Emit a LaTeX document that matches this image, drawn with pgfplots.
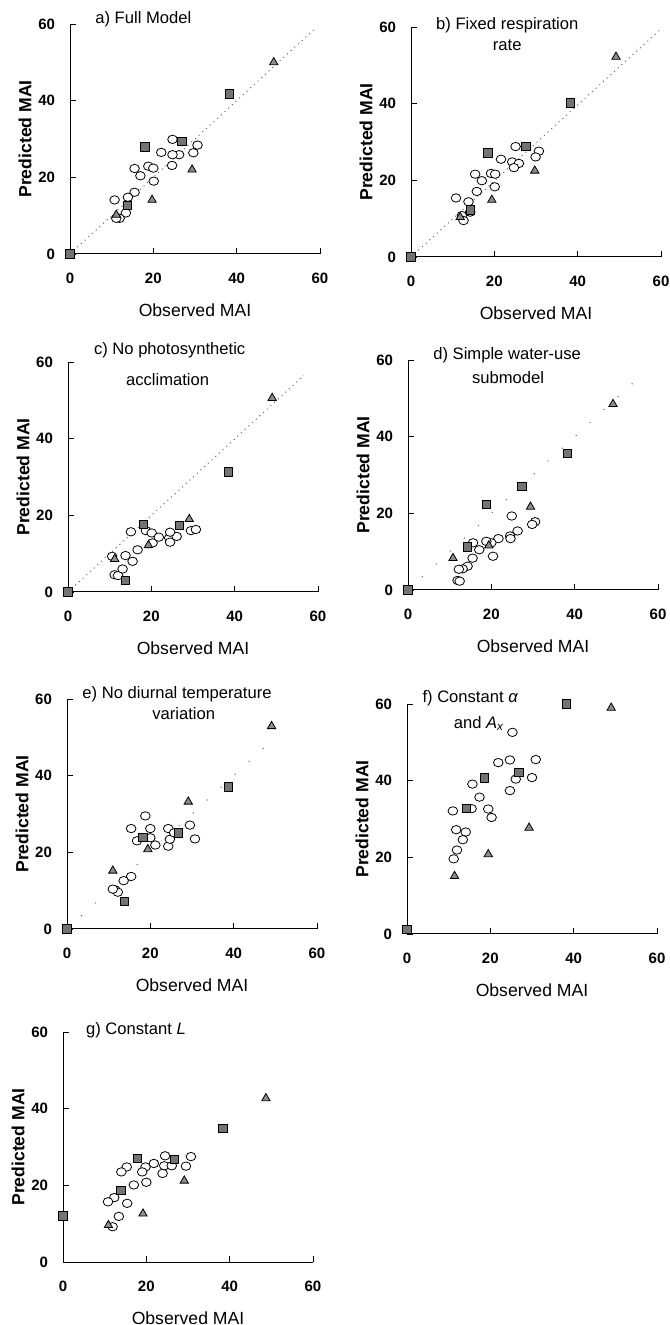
\documentclass[border=0pt]{standalone}
\usepackage{fontspec}
\setmainfont{Liberation Sans}
\usepackage{pgfplots}
\pgfplotsset{compat=1.18}

\pgfplotsset{
  panel/.style={
    scale only axis, width=125pt, height=115pt, anchor=south west,
    xmin=0, xmax=60, ymin=0, ymax=60,
    axis x line*=bottom, axis y line*=left,
    axis line style={-, black, line width=0.5pt},
    xtick={0,20,40,60}, ytick={0,20,40,60},
    tick align=inside, major tick length=3pt,
    tick style={black, line width=0.4pt},
    clip=false,
    /pgf/number format/assume math mode=true,
    ticklabel style={font=\bfseries\fontsize{7.5}{9}\selectfont},
    xticklabel style={yshift=-6pt},
    yticklabel style={xshift=-4pt},
    xlabel={Observed MAI}, ylabel={\bfseries Predicted MAI},
    label style={font=\fontsize{8.8}{10}\selectfont},
    x label style={at={(axis description cs:0.5,0)}, anchor=center, yshift=-28pt},
    y label style={at={(axis description cs:0,0.5)}, anchor=center, yshift=22.5pt},
  },
  circ/.style={only marks, mark=*, mark size=2.1pt,
    mark options={fill=white, draw=black, line width=0.4pt, xscale=1.15}},
  sq/.style={only marks, mark=square*, mark size=2.1pt,
    mark options={fill=black!55, draw=black, line width=0.4pt}},
  tri/.style={only marks, mark=triangle*, mark size=2.4pt,
    mark options={fill=black!45, draw=black, line width=0.4pt}},
  oneone/.style={black!60, dotted, line width=0.5pt},
  sparse/.style={black!60, line width=0.5pt, dash pattern=on 0.5pt off 9pt},
}
\newcommand{\ttl}[3]{\node[font=\fontsize{8.3}{10}\selectfont, inner sep=0] at (axis cs:#1,60) [yshift=#2] {#3};}

\begin{document}
\begin{tikzpicture}
\path[use as bounding box] (0,0) rectangle (334.5pt,662.5pt);

% a) Full Model
\begin{axis}[panel, at={(35pt,535.5pt)}]
\addplot[oneone] coordinates {(0,0) (59,59)};
\addplot[circ] coordinates {(24.6,29.9) (30.6,28.4) (21.9,26.5) (26.2,25.9) (24.6,25.9) (29.6,26.4) (24.5,23.1) (18.8,22.9) (20.0,22.4) (15.5,22.3) (16.9,20.4) (20.1,19.0) (15.5,16.1) (13.9,14.8) (10.7,14.1) (13.4,10.7) (11.9,9.3) (11.1,9.3)};
\addplot[sq] coordinates {(0,0) (13.8,12.6) (18.0,27.9) (26.9,29.4) (38.2,41.8)};
\addplot[tri] coordinates {(11.1,10.2) (19.7,14.1) (29.3,22.0) (48.9,50.0)};
\ttl{17.6}{2.5pt}{a) Full Model}
\end{axis}

% b) Fixed respiration rate
\begin{axis}[panel, at={(205.5pt,534pt)}]
\addplot[oneone] coordinates {(0,0) (60,59.5)};
\addplot[circ] coordinates {(25.1,28.8) (30.7,27.6) (29.9,26.1) (21.6,25.5) (24.3,24.8) (25.9,24.4) (24.7,23.3) (19.2,21.8) (20.2,21.6) (15.4,21.6) (17.0,19.9) (20.1,18.3) (15.8,17.1) (10.8,15.4) (13.8,14.4) (12.2,10.8) (12.6,9.5) (14.2,11.7)};
\addplot[sq] coordinates {(0,0) (14.2,12.3) (18.5,27.2) (27.6,28.8) (38.3,40.2)};
\addplot[tri] coordinates {(11.8,10.4) (19.4,14.9) (29.7,22.5) (49.2,52.2)};
\ttl{23.1}{1pt}{b) Fixed respiration}
\ttl{23.1}{-9pt}{rate}
\end{axis}

% c) No photosynthetic acclimation
\begin{axis}[panel, at={(34pt,366.5pt)}]
\addplot[oneone] coordinates {(0,0) (56.6,56.5)};
\addplot[circ] coordinates {(10.6,9.3) (11.2,4.5) (12.0,4.3) (13.1,6.0) (13.8,9.5) (15.5,8.0) (15.1,15.7) (16.7,11.0) (18.7,16.0) (20.1,15.4) (20.3,12.8) (21.8,14.3) (24.3,14.1) (24.5,13.0) (26.1,14.5) (24.5,15.6) (29.5,16.0) (30.7,16.3)};
\addplot[sq] coordinates {(0,0) (13.8,3.0) (18.1,17.6) (26.7,17.4) (38.5,31.3)};
\addplot[tri] coordinates {(11.2,8.6) (19.3,12.2) (29.1,19.0) (49.0,50.6)};
\ttl{24.4}{6pt}{c) No photosynthetic}
\ttl{23.9}{-9pt}{acclimation}
\end{axis}

% d) Simple water-use submodel
\begin{axis}[panel, at={(204pt,367.5pt)}]
\addplot[sparse] coordinates {(0,0) (56,56)};
\addplot[circ] coordinates {(24.9,19.3) (30.5,17.8) (29.8,17.1) (26.3,15.4) (24.5,14.1) (24.6,13.4) (21.7,13.4) (20.0,12.3) (18.8,12.7) (20.4,8.8) (17.1,10.5) (15.6,12.3) (15.5,8.3) (14.3,6.2) (13.1,5.5) (12.2,5.4) (11.9,2.5) (12.4,2.3)};
\addplot[sq] coordinates {(0,0) (14.2,11.2) (18.8,22.4) (27.3,27.0) (38.3,35.6)};
\addplot[tri] coordinates {(10.8,8.3) (19.4,11.6) (29.4,21.7) (49.2,48.5)};
\ttl{23.8}{2.5pt}{d) Simple water-use}
\ttl{24}{-9pt}{submodel}
\end{axis}

% e) No diurnal temperature variation
\begin{axis}[panel, at={(33.5pt,198pt)}]
\addplot[sparse] coordinates {(0,0) (50,50)};
\addplot[circ] coordinates {(18.8,29.5) (15.4,26.2) (20.0,26.2) (24.3,26.2) (29.5,27.1) (30.7,23.5) (20.0,23.8) (16.8,23.0) (21.2,21.9) (24.3,21.6) (24.7,23.4) (25.7,25.1) (15.4,13.7) (13.6,12.6) (11.6,10.2) (12.2,9.6) (11.0,10.4)};
\addplot[sq] coordinates {(0,0) (13.8,7.2) (18.2,23.9) (26.7,25.1) (38.7,37.1)};
\addplot[tri] coordinates {(11.0,15.2) (19.4,20.8) (29.1,33.2) (49.1,52.9)};
\ttl{26.4}{2.5pt}{e) No diurnal temperature}
\ttl{28}{-7.5pt}{variation}
\end{axis}

% f) Constant alpha and Ax
\begin{axis}[panel, at={(203.5pt,195.5pt)}]
\addplot[circ] coordinates {(25.3,52.6) (24.7,45.4) (30.9,45.5) (21.9,44.7) (26.1,40.4) (30.0,40.8) (15.7,39.1) (17.4,35.7) (24.7,37.4) (11.0,32.1) (15.5,32.7) (19.5,32.6) (20.3,30.4) (11.8,27.2) (14.1,26.6) (13.4,24.6) (12.0,21.9) (11.2,19.6)};
\addplot[sq] coordinates {(0,1.2) (14.3,32.7) (18.6,40.7) (26.9,42.1) (38.2,60.0)};
\addplot[tri] coordinates {(11.4,15.1) (19.5,20.8) (29.3,27.7) (49.0,59.0)};
\ttl{15.2}{3pt}{f) Constant \textit{α}}
\ttl{17.3}{-9.5pt}{and \textit{A}\textsubscript{\textit{x}}}
\end{axis}

% g) Constant L
\begin{axis}[panel, at={(31.5pt,31.5pt)}]
\addplot[circ] coordinates {(30.7,27.5) (29.5,25.0) (24.5,27.7) (24.3,25.1) (26.1,25.1) (23.9,23.1) (21.8,25.7) (19.8,24.8) (19.0,23.5) (20.0,20.8) (17.0,20.1) (15.3,24.8) (14.0,23.5) (12.3,16.8) (10.8,15.7) (15.4,15.3) (13.4,11.9) (11.9,9.2)};
\addplot[sq] coordinates {(0,12.0) (13.9,18.6) (17.8,27.0) (26.8,26.8) (38.4,34.9)};
\addplot[tri] coordinates {(10.9,9.6) (19.2,12.6) (29.1,21.2) (48.7,42.7)};
\ttl{17.5}{1pt}{g) Constant \textit{L}}
\end{axis}
\end{tikzpicture}
\end{document}
